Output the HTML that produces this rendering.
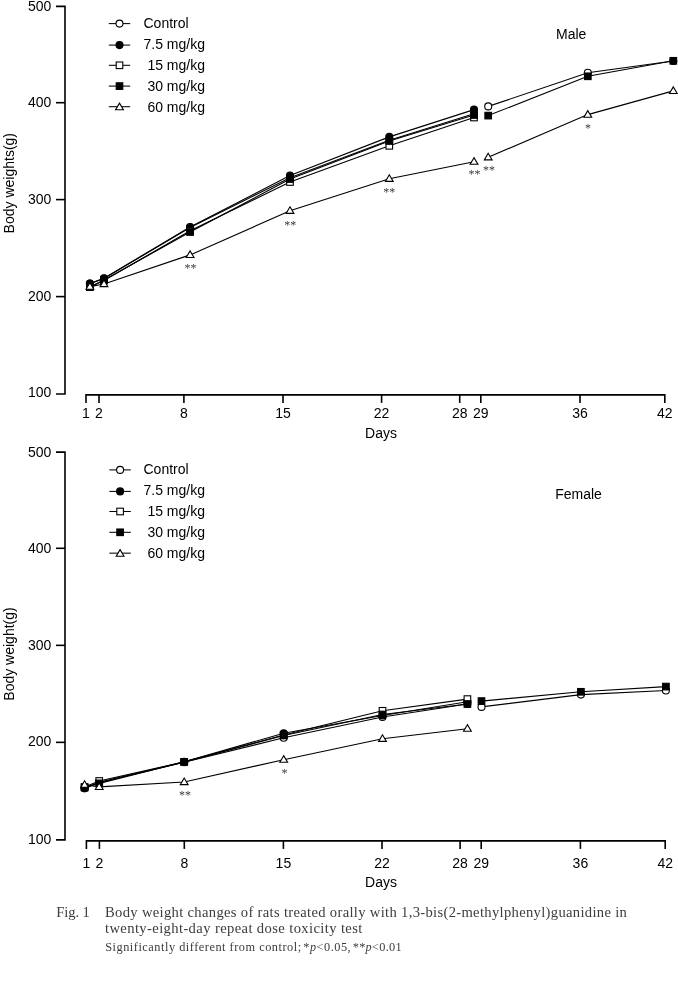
<!DOCTYPE html>
<html lang="en">
<head>
<meta charset="utf-8">
<title>Fig. 1 Body weight changes</title>
<style>
html,body{margin:0;padding:0;background:#fff;}
body{width:678px;height:993px;position:relative;overflow:hidden;font-family:"Liberation Sans", Arial, Helvetica, sans-serif;}
svg{position:absolute;left:0;top:0;display:block;will-change:transform;}
svg text{font-family:"Liberation Sans", Arial, Helvetica, sans-serif;font-size:14px;fill:#000;}
svg text.st{font-family:"Liberation Serif", "Times New Roman", serif;font-size:12px;fill:#3a3a3a;}
.cap{position:absolute;left:0;top:0;will-change:transform;font-family:"Liberation Serif", "Times New Roman", serif;color:#3c3c3c;white-space:nowrap;}
.cap div{position:absolute;white-space:nowrap;}
.l1{font-size:14.6px;line-height:16px;letter-spacing:0.22px;}
.l3{font-size:12.3px;line-height:14px;}
</style>
</head>
<body>
<svg width="678" height="993" viewBox="0 0 678 993">
<path d="M56 6.40H65V394.00H56" fill="none" stroke="#000" stroke-width="1.6" stroke-linejoin="miter"/>
<path d="M56 102.70H65" stroke="#000" stroke-width="1.6"/>
<path d="M56 199.60H65" stroke="#000" stroke-width="1.6"/>
<path d="M56 296.60H65" stroke="#000" stroke-width="1.6"/>
<text x="51.3" y="11.00" text-anchor="end">500</text>
<text x="51.3" y="106.80" text-anchor="end">400</text>
<text x="51.3" y="203.80" text-anchor="end">300</text>
<text x="51.3" y="301.00" text-anchor="end">200</text>
<text x="51.3" y="397.20" text-anchor="end">100</text>
<path d="M86.00 402.90V394.90H664.80V402.90" fill="none" stroke="#000" stroke-width="1.6" stroke-linejoin="miter"/>
<path d="M99.00 394.90V402.90" stroke="#000" stroke-width="1.6"/>
<path d="M183.90 394.90V402.90" stroke="#000" stroke-width="1.6"/>
<path d="M283.00 394.90V402.90" stroke="#000" stroke-width="1.6"/>
<path d="M381.60 394.90V402.90" stroke="#000" stroke-width="1.6"/>
<path d="M459.70 394.90V402.90" stroke="#000" stroke-width="1.6"/>
<path d="M480.80 394.90V402.90" stroke="#000" stroke-width="1.6"/>
<path d="M580.00 394.90V402.90" stroke="#000" stroke-width="1.6"/>
<text x="86.00" y="418.00" text-anchor="middle">1</text>
<text x="99.00" y="418.00" text-anchor="middle">2</text>
<text x="183.90" y="418.00" text-anchor="middle">8</text>
<text x="283.00" y="418.00" text-anchor="middle">15</text>
<text x="381.60" y="418.00" text-anchor="middle">22</text>
<text x="459.70" y="418.00" text-anchor="middle">28</text>
<text x="480.80" y="418.00" text-anchor="middle">29</text>
<text x="580.00" y="418.00" text-anchor="middle">36</text>
<text x="664.80" y="418.00" text-anchor="middle">42</text>
<text x="381" y="437.70" text-anchor="middle">Days</text>
<text transform="translate(14.3 183.20) rotate(-90)" text-anchor="middle">Body weights(g)</text>
<path d="M56 452.10H65V839.90H56" fill="none" stroke="#000" stroke-width="1.6" stroke-linejoin="miter"/>
<path d="M56 548.30H65" stroke="#000" stroke-width="1.6"/>
<path d="M56 645.35H65" stroke="#000" stroke-width="1.6"/>
<path d="M56 742.35H65" stroke="#000" stroke-width="1.6"/>
<text x="51.3" y="456.80" text-anchor="end">500</text>
<text x="51.3" y="552.80" text-anchor="end">400</text>
<text x="51.3" y="650.00" text-anchor="end">300</text>
<text x="51.3" y="745.90" text-anchor="end">200</text>
<text x="51.3" y="844.10" text-anchor="end">100</text>
<path d="M86.40 848.90V840.90H665.20V848.90" fill="none" stroke="#000" stroke-width="1.6" stroke-linejoin="miter"/>
<path d="M99.40 840.90V848.90" stroke="#000" stroke-width="1.6"/>
<path d="M184.30 840.90V848.90" stroke="#000" stroke-width="1.6"/>
<path d="M283.40 840.90V848.90" stroke="#000" stroke-width="1.6"/>
<path d="M382.00 840.90V848.90" stroke="#000" stroke-width="1.6"/>
<path d="M460.10 840.90V848.90" stroke="#000" stroke-width="1.6"/>
<path d="M481.20 840.90V848.90" stroke="#000" stroke-width="1.6"/>
<path d="M580.40 840.90V848.90" stroke="#000" stroke-width="1.6"/>
<text x="86.40" y="868.00" text-anchor="middle">1</text>
<text x="99.40" y="868.00" text-anchor="middle">2</text>
<text x="184.30" y="868.00" text-anchor="middle">8</text>
<text x="283.40" y="868.00" text-anchor="middle">15</text>
<text x="382.00" y="868.00" text-anchor="middle">22</text>
<text x="460.10" y="868.00" text-anchor="middle">28</text>
<text x="481.20" y="868.00" text-anchor="middle">29</text>
<text x="580.40" y="868.00" text-anchor="middle">36</text>
<text x="665.20" y="868.00" text-anchor="middle">42</text>
<text x="381" y="886.70" text-anchor="middle">Days</text>
<text transform="translate(14.3 654.00) rotate(-90)" text-anchor="middle">Body weight(g)</text>
<path d="M108.80 23.60H130.20" stroke="#000" stroke-width="1.05"/>
<circle cx="119.50" cy="23.60" r="3.5" fill="#fff" stroke="#000" stroke-width="1.1"/>
<text x="143.50" y="28.00">Control</text>
<path d="M108.80 45.10H130.20" stroke="#000" stroke-width="1.05"/>
<circle cx="119.50" cy="45.10" r="3.5" fill="#000" stroke="#000" stroke-width="1.1"/>
<text x="143.50" y="49.00">7.5 mg/kg</text>
<path d="M108.80 65.30H130.20" stroke="#000" stroke-width="1.05"/>
<rect x="116.20" y="62.00" width="6.6" height="6.6" fill="#fff" stroke="#000" stroke-width="1.1"/>
<text x="143.50" y="70.00"> 15 mg/kg</text>
<path d="M108.80 86.10H130.20" stroke="#000" stroke-width="1.05"/>
<rect x="116.20" y="82.80" width="6.6" height="6.6" fill="#000" stroke="#000" stroke-width="1.1"/>
<text x="143.50" y="90.80"> 30 mg/kg</text>
<path d="M108.80 106.70H130.20" stroke="#000" stroke-width="1.05"/>
<polygon points="119.50,103.15 115.60,109.75 123.40,109.75" fill="#fff" stroke="#000" stroke-width="1.1" stroke-linejoin="miter"/>
<text x="143.50" y="111.60"> 60 mg/kg</text>
<path d="M109.40 469.90H130.80" stroke="#000" stroke-width="1.05"/>
<circle cx="120.10" cy="469.90" r="3.5" fill="#fff" stroke="#000" stroke-width="1.1"/>
<text x="143.50" y="474.10">Control</text>
<path d="M109.40 491.40H130.80" stroke="#000" stroke-width="1.05"/>
<circle cx="120.10" cy="491.40" r="3.5" fill="#000" stroke="#000" stroke-width="1.1"/>
<text x="143.50" y="494.90">7.5 mg/kg</text>
<path d="M109.40 511.50H130.80" stroke="#000" stroke-width="1.05"/>
<rect x="116.80" y="508.20" width="6.6" height="6.6" fill="#fff" stroke="#000" stroke-width="1.1"/>
<text x="143.50" y="516.20"> 15 mg/kg</text>
<path d="M109.40 532.30H130.80" stroke="#000" stroke-width="1.05"/>
<rect x="116.80" y="529.00" width="6.6" height="6.6" fill="#000" stroke="#000" stroke-width="1.1"/>
<text x="143.50" y="537.00"> 30 mg/kg</text>
<path d="M109.40 553.15H130.80" stroke="#000" stroke-width="1.05"/>
<polygon points="120.10,549.60 116.20,556.20 124.00,556.20" fill="#fff" stroke="#000" stroke-width="1.1" stroke-linejoin="miter"/>
<text x="143.50" y="557.90"> 60 mg/kg</text>
<text x="556" y="39">Male</text>
<text x="555.2" y="498.6">Female</text>
<polyline points="89.90,283.60 104.00,278.60 190.10,227.40 290.00,177.80 389.30,140.30 474.00,113.80" fill="none" stroke="#000" stroke-width="1.12"/>
<polyline points="488.20,106.40 587.80,72.80 673.30,61.00" fill="none" stroke="#000" stroke-width="1.12"/>
<circle cx="89.90" cy="283.60" r="3.5" fill="#fff" stroke="#000" stroke-width="1.1"/>
<circle cx="104.00" cy="278.60" r="3.5" fill="#fff" stroke="#000" stroke-width="1.1"/>
<circle cx="190.10" cy="227.40" r="3.5" fill="#fff" stroke="#000" stroke-width="1.1"/>
<circle cx="290.00" cy="177.80" r="3.5" fill="#fff" stroke="#000" stroke-width="1.1"/>
<circle cx="389.30" cy="140.30" r="3.5" fill="#fff" stroke="#000" stroke-width="1.1"/>
<circle cx="474.00" cy="113.80" r="3.5" fill="#fff" stroke="#000" stroke-width="1.1"/>
<circle cx="488.20" cy="106.40" r="3.5" fill="#fff" stroke="#000" stroke-width="1.1"/>
<circle cx="587.80" cy="72.80" r="3.5" fill="#fff" stroke="#000" stroke-width="1.1"/>
<circle cx="673.30" cy="61.00" r="3.5" fill="#fff" stroke="#000" stroke-width="1.1"/>
<polyline points="89.90,283.60 104.00,278.20 190.10,227.00 290.00,175.50 389.30,136.90 474.00,109.60" fill="none" stroke="#000" stroke-width="1.12"/>
<circle cx="89.90" cy="283.60" r="3.5" fill="#000" stroke="#000" stroke-width="1.1"/>
<circle cx="104.00" cy="278.20" r="3.5" fill="#000" stroke="#000" stroke-width="1.1"/>
<circle cx="190.10" cy="227.00" r="3.5" fill="#000" stroke="#000" stroke-width="1.1"/>
<circle cx="290.00" cy="175.50" r="3.5" fill="#000" stroke="#000" stroke-width="1.1"/>
<circle cx="389.30" cy="136.90" r="3.5" fill="#000" stroke="#000" stroke-width="1.1"/>
<circle cx="474.00" cy="109.60" r="3.5" fill="#000" stroke="#000" stroke-width="1.1"/>
<polyline points="89.90,287.00 104.00,280.50 190.10,230.80 290.00,182.00 389.30,145.80 474.00,117.50" fill="none" stroke="#000" stroke-width="1.12"/>
<rect x="86.60" y="283.70" width="6.6" height="6.6" fill="#fff" stroke="#000" stroke-width="1.1"/>
<rect x="100.70" y="277.20" width="6.6" height="6.6" fill="#fff" stroke="#000" stroke-width="1.1"/>
<rect x="186.80" y="227.50" width="6.6" height="6.6" fill="#fff" stroke="#000" stroke-width="1.1"/>
<rect x="286.70" y="178.70" width="6.6" height="6.6" fill="#fff" stroke="#000" stroke-width="1.1"/>
<rect x="386.00" y="142.50" width="6.6" height="6.6" fill="#fff" stroke="#000" stroke-width="1.1"/>
<rect x="470.70" y="114.20" width="6.6" height="6.6" fill="#fff" stroke="#000" stroke-width="1.1"/>
<polyline points="89.90,287.00 104.00,280.00 190.10,232.00 290.00,179.00 389.30,141.00 474.00,115.00" fill="none" stroke="#000" stroke-width="1.12"/>
<polyline points="488.20,115.60 587.80,76.30 673.30,60.80" fill="none" stroke="#000" stroke-width="1.12"/>
<rect x="86.60" y="283.70" width="6.6" height="6.6" fill="#000" stroke="#000" stroke-width="1.1"/>
<rect x="100.70" y="276.70" width="6.6" height="6.6" fill="#000" stroke="#000" stroke-width="1.1"/>
<rect x="186.80" y="228.70" width="6.6" height="6.6" fill="#000" stroke="#000" stroke-width="1.1"/>
<rect x="286.70" y="175.70" width="6.6" height="6.6" fill="#000" stroke="#000" stroke-width="1.1"/>
<rect x="386.00" y="137.70" width="6.6" height="6.6" fill="#000" stroke="#000" stroke-width="1.1"/>
<rect x="470.70" y="111.70" width="6.6" height="6.6" fill="#000" stroke="#000" stroke-width="1.1"/>
<rect x="484.90" y="112.30" width="6.6" height="6.6" fill="#000" stroke="#000" stroke-width="1.1"/>
<rect x="584.50" y="73.00" width="6.6" height="6.6" fill="#000" stroke="#000" stroke-width="1.1"/>
<rect x="670.00" y="57.50" width="6.6" height="6.6" fill="#000" stroke="#000" stroke-width="1.1"/>
<polyline points="89.90,286.60 104.00,284.00 190.10,254.90 290.00,210.80 389.30,178.80 474.00,161.70" fill="none" stroke="#000" stroke-width="1.12"/>
<polyline points="488.20,157.30 587.80,114.60 673.30,90.90" fill="none" stroke="#000" stroke-width="1.12"/>
<polygon points="89.90,282.60 86.00,289.20 93.80,289.20" fill="#fff" stroke="#000" stroke-width="1.1" stroke-linejoin="miter"/>
<polygon points="104.00,280.00 100.10,286.60 107.90,286.60" fill="#fff" stroke="#000" stroke-width="1.1" stroke-linejoin="miter"/>
<polygon points="190.10,250.90 186.20,257.50 194.00,257.50" fill="#fff" stroke="#000" stroke-width="1.1" stroke-linejoin="miter"/>
<polygon points="290.00,206.80 286.10,213.40 293.90,213.40" fill="#fff" stroke="#000" stroke-width="1.1" stroke-linejoin="miter"/>
<polygon points="389.30,174.80 385.40,181.40 393.20,181.40" fill="#fff" stroke="#000" stroke-width="1.1" stroke-linejoin="miter"/>
<polygon points="474.00,157.70 470.10,164.30 477.90,164.30" fill="#fff" stroke="#000" stroke-width="1.1" stroke-linejoin="miter"/>
<polygon points="488.20,153.30 484.30,159.90 492.10,159.90" fill="#fff" stroke="#000" stroke-width="1.1" stroke-linejoin="miter"/>
<polygon points="587.80,110.60 583.90,117.20 591.70,117.20" fill="#fff" stroke="#000" stroke-width="1.1" stroke-linejoin="miter"/>
<polygon points="673.30,86.90 669.40,93.50 677.20,93.50" fill="#fff" stroke="#000" stroke-width="1.1" stroke-linejoin="miter"/>
<polyline points="84.60,788.30 99.20,782.50 184.20,762.20 283.70,737.80 382.50,717.00 467.40,704.00" fill="none" stroke="#000" stroke-width="1.12"/>
<polyline points="481.50,706.90 580.90,694.60 665.90,690.50" fill="none" stroke="#000" stroke-width="1.12"/>
<circle cx="84.60" cy="788.30" r="3.5" fill="#fff" stroke="#000" stroke-width="1.1"/>
<circle cx="99.20" cy="782.50" r="3.5" fill="#fff" stroke="#000" stroke-width="1.1"/>
<circle cx="184.20" cy="762.20" r="3.5" fill="#fff" stroke="#000" stroke-width="1.1"/>
<circle cx="283.70" cy="737.80" r="3.5" fill="#fff" stroke="#000" stroke-width="1.1"/>
<circle cx="382.50" cy="717.00" r="3.5" fill="#fff" stroke="#000" stroke-width="1.1"/>
<circle cx="467.40" cy="704.00" r="3.5" fill="#fff" stroke="#000" stroke-width="1.1"/>
<circle cx="481.50" cy="706.90" r="3.5" fill="#fff" stroke="#000" stroke-width="1.1"/>
<circle cx="580.90" cy="694.60" r="3.5" fill="#fff" stroke="#000" stroke-width="1.1"/>
<circle cx="665.90" cy="690.50" r="3.5" fill="#fff" stroke="#000" stroke-width="1.1"/>
<polyline points="84.60,788.30 99.20,782.30 184.20,761.90 283.70,733.20 382.50,715.50 467.40,701.80" fill="none" stroke="#000" stroke-width="1.12"/>
<circle cx="84.60" cy="788.30" r="3.5" fill="#000" stroke="#000" stroke-width="1.1"/>
<circle cx="99.20" cy="782.30" r="3.5" fill="#000" stroke="#000" stroke-width="1.1"/>
<circle cx="184.20" cy="761.90" r="3.5" fill="#000" stroke="#000" stroke-width="1.1"/>
<circle cx="283.70" cy="733.20" r="3.5" fill="#000" stroke="#000" stroke-width="1.1"/>
<circle cx="382.50" cy="715.50" r="3.5" fill="#000" stroke="#000" stroke-width="1.1"/>
<circle cx="467.40" cy="701.80" r="3.5" fill="#000" stroke="#000" stroke-width="1.1"/>
<polyline points="84.60,787.00 99.20,781.00 184.20,761.90 283.70,735.00 382.50,710.80 467.40,699.10" fill="none" stroke="#000" stroke-width="1.12"/>
<rect x="81.30" y="783.70" width="6.6" height="6.6" fill="#fff" stroke="#000" stroke-width="1.1"/>
<rect x="95.90" y="777.70" width="6.6" height="6.6" fill="#fff" stroke="#000" stroke-width="1.1"/>
<rect x="180.90" y="758.60" width="6.6" height="6.6" fill="#fff" stroke="#000" stroke-width="1.1"/>
<rect x="280.40" y="731.70" width="6.6" height="6.6" fill="#fff" stroke="#000" stroke-width="1.1"/>
<rect x="379.20" y="707.50" width="6.6" height="6.6" fill="#fff" stroke="#000" stroke-width="1.1"/>
<rect x="464.10" y="695.80" width="6.6" height="6.6" fill="#fff" stroke="#000" stroke-width="1.1"/>
<polyline points="84.60,787.50 99.20,783.40 184.20,761.90 283.70,735.50 382.50,714.50 467.40,704.00" fill="none" stroke="#000" stroke-width="1.12"/>
<polyline points="481.50,701.10 580.90,691.80 665.90,686.60" fill="none" stroke="#000" stroke-width="1.12"/>
<rect x="81.30" y="784.20" width="6.6" height="6.6" fill="#000" stroke="#000" stroke-width="1.1"/>
<rect x="95.90" y="780.10" width="6.6" height="6.6" fill="#000" stroke="#000" stroke-width="1.1"/>
<rect x="180.90" y="758.60" width="6.6" height="6.6" fill="#000" stroke="#000" stroke-width="1.1"/>
<rect x="280.40" y="732.20" width="6.6" height="6.6" fill="#000" stroke="#000" stroke-width="1.1"/>
<rect x="379.20" y="711.20" width="6.6" height="6.6" fill="#000" stroke="#000" stroke-width="1.1"/>
<rect x="464.10" y="700.70" width="6.6" height="6.6" fill="#000" stroke="#000" stroke-width="1.1"/>
<rect x="478.20" y="697.80" width="6.6" height="6.6" fill="#000" stroke="#000" stroke-width="1.1"/>
<rect x="577.60" y="688.50" width="6.6" height="6.6" fill="#000" stroke="#000" stroke-width="1.1"/>
<rect x="662.60" y="683.30" width="6.6" height="6.6" fill="#000" stroke="#000" stroke-width="1.1"/>
<polyline points="84.60,784.80 99.20,786.90 184.20,782.00 283.70,759.70 382.50,738.80 467.40,728.70" fill="none" stroke="#000" stroke-width="1.12"/>
<polygon points="84.60,780.80 80.70,787.40 88.50,787.40" fill="#fff" stroke="#000" stroke-width="1.1" stroke-linejoin="miter"/>
<polygon points="99.20,782.90 95.30,789.50 103.10,789.50" fill="#fff" stroke="#000" stroke-width="1.1" stroke-linejoin="miter"/>
<polygon points="184.20,778.00 180.30,784.60 188.10,784.60" fill="#fff" stroke="#000" stroke-width="1.1" stroke-linejoin="miter"/>
<polygon points="283.70,755.70 279.80,762.30 287.60,762.30" fill="#fff" stroke="#000" stroke-width="1.1" stroke-linejoin="miter"/>
<polygon points="382.50,734.80 378.60,741.40 386.40,741.40" fill="#fff" stroke="#000" stroke-width="1.1" stroke-linejoin="miter"/>
<polygon points="467.40,724.70 463.50,731.30 471.30,731.30" fill="#fff" stroke="#000" stroke-width="1.1" stroke-linejoin="miter"/>
<text x="190.50" y="272.30" class="st" text-anchor="middle">**</text>
<text x="290.30" y="228.50" class="st" text-anchor="middle">**</text>
<text x="389.30" y="195.80" class="st" text-anchor="middle">**</text>
<text x="474.50" y="177.70" class="st" text-anchor="middle">**</text>
<text x="489.10" y="174.20" class="st" text-anchor="middle">**</text>
<text x="588.00" y="132.30" class="st" text-anchor="middle">*</text>
<text x="185.00" y="799.00" class="st" text-anchor="middle">**</text>
<text x="284.50" y="777.10" class="st" text-anchor="middle">*</text>
</svg>
<div class="cap">
<div class="l1" style="left:56.3px;top:903.5px;letter-spacing:-0.1px;">Fig. 1</div>
<div class="l1" style="left:105.0px;top:903.5px;letter-spacing:0.325px;">Body weight changes of rats treated orally with 1,3-bis(2-methylphenyl)guanidine in</div>
<div class="l1" style="left:105.0px;top:919.5px;letter-spacing:0.385px;">twenty-eight-day repeat dose toxicity test</div>
<div class="l3" style="left:105.2px;top:940.4px;"><span style="letter-spacing:0.526px;">Significantly different from control;</span><span style="letter-spacing:0.5px;margin-left:1.6px;">*<i>p</i>&lt;0.05,</span><span style="letter-spacing:0.28px;margin-left:1.6px;">**<i>p</i>&lt;0.01</span></div>
</div>
</body>
</html>
